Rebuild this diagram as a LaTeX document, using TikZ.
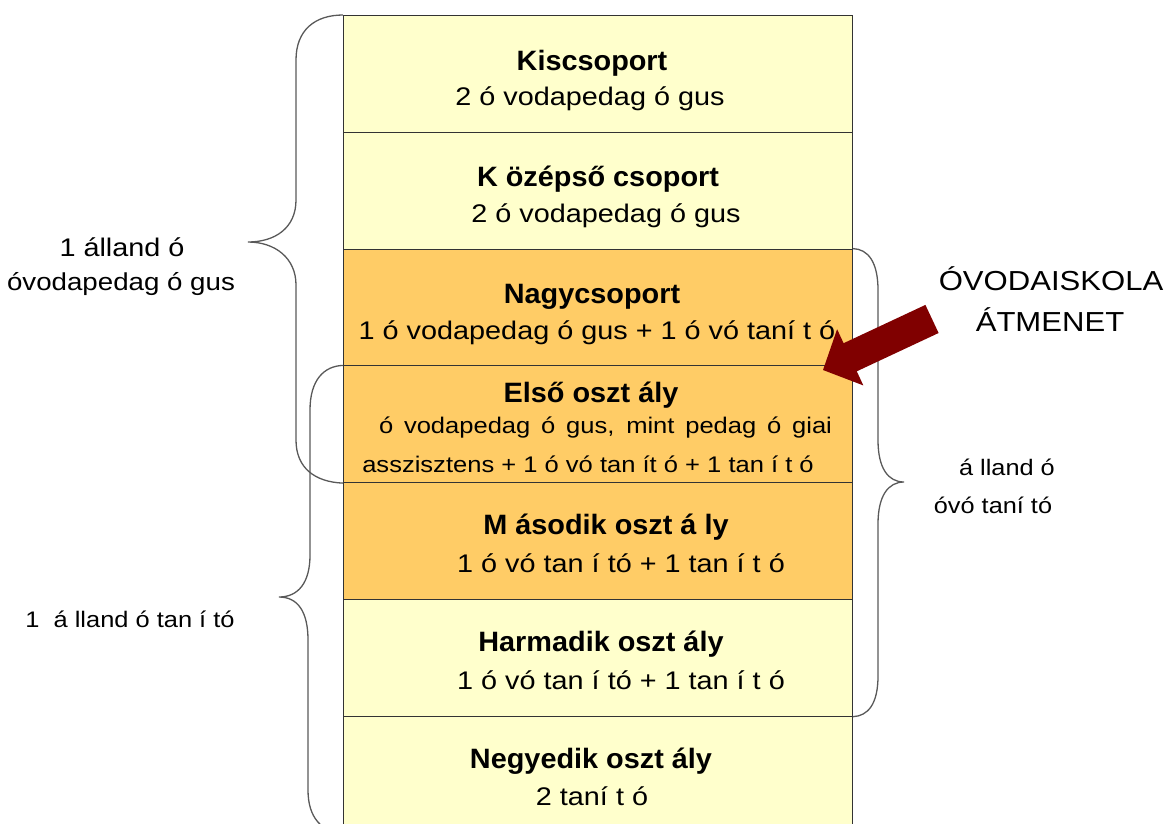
\documentclass[tikz,border=0pt]{standalone}
\usepackage{fontspec}
\setmainfont{Liberation Sans}[FakeStretch=1.13]
\newfontfamily\hdfont{Liberation Sans Bold}[FakeStretch=1.03]
\definecolor{lightrow}{HTML}{FFFFCC}
\definecolor{orangerow}{HTML}{FFCC66}
\definecolor{arrowred}{HTML}{800000}
\begin{document}
\begin{tikzpicture}[x=1pt,y=-1pt,
  rowbox/.style={draw=black!80,line width=0.9pt,minimum width=509pt,minimum height=116.8pt,inner sep=0pt,anchor=north west},
  hd/.style={font=\fontsize{28}{32}\hdfont,anchor=base,inner sep=0pt},
  tx/.style={font=\fontsize{25.5}{30}\selectfont,anchor=base,inner sep=0pt},
  txs/.style={font=\fontsize{22.6}{28}\selectfont,anchor=base,inner sep=0pt},
  lbl/.style={font=\fontsize{25.5}{30}\selectfont,anchor=base,inner sep=0pt},
  lblw/.style={font=\fontsize{24.5}{30}\selectfont,anchor=base,inner sep=0pt},
  lblm/.style={font=\fontsize{22.5}{28}\selectfont,anchor=base,inner sep=0pt},
  lbls/.style={font=\fontsize{22.4}{26}\selectfont,anchor=base,inner sep=0pt},
  big/.style={font=\fontsize{27.5}{32}\selectfont,anchor=base,inner sep=0pt},
  brace/.style={draw=black!65,line width=1.3pt}]
\useasboundingbox (0,0) rectangle (1170,823);
\begin{scope}
\clip (0,0) rectangle (1170,823);
% rows
\node[rowbox,fill=lightrow] (r1) at (343,15) {};
\node[rowbox,fill=lightrow] (r2) at (343,131.8) {};
\node[rowbox,fill=orangerow] (r3) at (343,248.6) {};
\node[rowbox,fill=orangerow] (r4) at (343,365.4) {};
\node[rowbox,fill=orangerow] (r5) at (343,482.2) {};
\node[rowbox,fill=lightrow] (r6) at (343,599) {};
\node[rowbox,fill=lightrow] (r7) at (343,715.8) {};
% braces
\draw[brace] (r1.north west) .. controls (315,15) and (296,30) .. (296,60) -- (296,200)
  .. controls (296,228) and (275,242) .. (248,242) coordinate (b1)
  .. controls (275,242) and (296,258) .. (296,285) -- (296,440)
  .. controls (296,468) and (315,482) .. (r4.south west);
\draw[brace] (r4.north west) .. controls (324,366) and (310,380) .. (310,410) -- (310,555)
  .. controls (310,583) and (298,597) .. (279,597) coordinate (b2)
  .. controls (298,597) and (308,612) .. (308,640) -- (308,790)
  .. controls (308,818) and (322,832) .. (r7.south west);
\draw[brace] (r3.north east) .. controls (868,249) and (878,262) .. (878,290) -- (878,440)
  .. controls (878,468) and (888,482) .. (904,482) coordinate (b3)
  .. controls (888,482) and (878,496) .. (878,524) -- (878,676)
  .. controls (878,704) and (868,716) .. (r6.south east);
\end{scope}
% row texts
\node[hd] (t1a) at (592,70) {Kiscsoport};
\node[tx] (t1b) at (590,105) {2 ó vodapedag ó gus};
\node[hd] (t2a) at (598,186) {K özépső csoport};
\node[tx] (t2b) at (606,222) {2 ó vodapedag ó gus};
\node[hd] (t3a) at (592,303) {Nagycsoport};
\node[tx] (t3b) at (597,339) {1 ó vodapedag ó gus + 1 ó vó taní t ó};
\node[hd] (t4a) at (591,402) {Első oszt ály};
\node[txs] (t4b) at (605.5,433) {\makebox[453pt][s]{ó vodapedag ó gus, mint pedag ó giai}};
\node[txs] (t4c) at (588,472) {asszisztens + 1 ó vó tan ít ó + 1 tan í t ó};
\node[hd] (t5a) at (606,534) {M ásodik oszt á ly};
\node[tx] (t5b) at (621,572) {1 ó vó tan í tó + 1 tan í t ó};
\node[hd] (t6a) at (601,651) {Harmadik oszt ály};
\node[tx] (t6b) at (621,689) {1 ó vó tan í tó + 1 tan í t ó};
\node[hd] (t7a) at (591,768) {Negyedik oszt ály};
\node[tx] (t7b) at (592,805) {2 taní t ó};
% side labels
\node[lbl] (l1) at (122,256) {1 álland ó};
\node[lblw] (l2) at (121,290) {óvodapedag ó gus};
\node[lblm] (l3) at (130,627) {1\ \ á lland ó tan í tó};
\node[lbls] (l4) at (1007,475) {á lland ó};
\node[lbls] (l5) at (993,513) {óvó taní tó};
\node[big] (l6) at (1051,290) {ÓVODAISKOLA};
\node[big] (l7) at (1050,331) {ÁTMENET};
% block arrow
\fill[arrowred] (938.6,333.0) -- (856.8,371.3) -- (863.3,385.4) -- (823,370) -- (837.1,329.2) -- (843.6,343.2) -- (925.4,304.9) -- cycle;
\end{tikzpicture}
\end{document}
